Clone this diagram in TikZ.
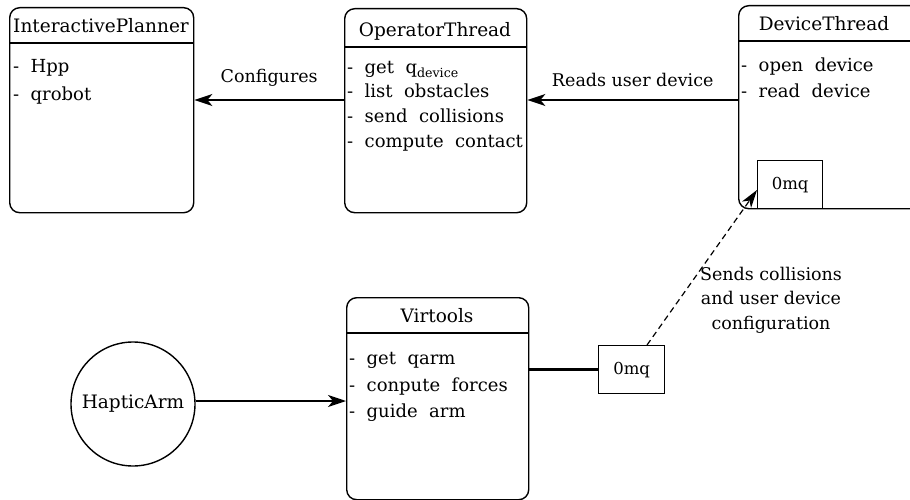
\documentclass[tikz,border=0pt]{standalone}
\usepackage{fontspec}
\setmainfont{DejaVu Serif}
\usetikzlibrary{arrows.meta}
\tikzset{
  box/.style={draw, line width=1.4pt, rounded corners=10pt, anchor=north west, inner sep=0pt},
  txt/.style={anchor=base west, inner sep=0pt, font=\fontsize{18}{22}\selectfont},
  ttl/.style={anchor=base, inner sep=0pt, font=\fontsize{18.5}{22}\selectfont},
  lbl/.style={inner sep=0pt, font=\fontsize{17.5}{24.5}\selectfont, align=center},
  zmq/.style={draw, line width=1.3pt, fill=white, anchor=north west, inner sep=0pt, font=\fontsize{16.5}{18}\selectfont},
  arr/.style={line width=1.4pt, -{Stealth[length=18pt,width=12pt,inset=5pt]}},
  sep/.style={line width=1.4pt}
}
\begin{document}
\begin{tikzpicture}[x=1pt,y=-1pt]
\useasboundingbox (0,0) rectangle (910,500);
\begin{scope}
\clip (0,0) rectangle (910,500);
% InteractivePlanner
\node[box, minimum width=184pt, minimum height=205pt] (ip) at (9,7) {};
\draw[sep] (9,43) -- (193,43);
\node[ttl] (ipt) at (101,33) {InteractivePlanner};
\node[txt] (ip1) at (13,73) {-\ \ Hpp};
\node[txt] (ip2) at (13,101) {-\ \ qrobot};
% OperatorThread
\node[box, minimum width=182pt, minimum height=204pt] (op) at (344,8) {};
\draw[sep] (344,47) -- (526,47);
\node[ttl] (opt) at (435,37) {OperatorThread};
\node[txt] (op1) at (347,74) {-\ \ get\ \ q\textsubscript{device}};
\node[txt] (op2) at (347,98) {-\ \ list\ \ obstacles};
\node[txt] (op3) at (347,123) {-\ \ send\ \ collisions};
\node[txt] (op4) at (347,148) {-\ \ compute\ \ contact};
% DeviceThread
\node[box, minimum width=200pt, minimum height=203pt] (dt) at (738,5) {};
\draw[sep] (738,41) -- (910,41);
\node[ttl] (dtt) at (824,31) {DeviceThread};
\node[txt] (dt1) at (741,72) {-\ \ open\ \ device};
\node[txt] (dt2) at (741,98) {-\ \ read\ \ device};
\node[zmq, minimum width=65pt, minimum height=48pt] (z1) at (757,160) {0mq};
% Virtools
\node[box, minimum width=182pt, minimum height=202pt] (vt) at (346,297) {};
\draw[sep] (346,333) -- (528,333);
\node[ttl] (vtt) at (437,322) {Virtools};
\node[txt] (vt1) at (349,364) {-\ \ get\ \ qarm};
\node[txt] (vt2) at (349,391) {-\ \ conpute\ \ forces};
\node[txt] (vt3) at (349,417) {-\ \ guide\ \ arm};
% 0mq lower
\node[zmq, minimum width=66pt, minimum height=48pt] (z2) at (598,345) {0mq};
% HapticArm
\node[draw, circle, line width=1.4pt, minimum size=124pt, inner sep=0pt, font=\fontsize{18.5}{22}\selectfont] (ha) at (133,404) {HapticArm};
\end{scope}
% connectors
\draw[arr] (op.west |- 0,100) -- node[lbl, above=13pt] (l1) {Configures} (ip.east |- 0,100);
\draw[arr] (dt.west |- 0,100) -- node[lbl, above=13pt] (l2) {Reads user device} (op.east |- 0,100);
\draw[arr] (ha.east |- 0,401) -- (vt.west |- 0,401);
\draw[line width=3pt] (vt.east |- z2.west) -- (z2.west);
\coordinate (tip) at (757,190);
\draw[line width=1.2pt, dash pattern=on 6pt off 4pt, -{Stealth[length=18pt,width=11pt,inset=5pt]}] (z2.north -| 647,0) -- (tip);
\node[lbl] (l3) at (771,300) {Sends collisions\\and user device\\configuration};
\end{tikzpicture}
\end{document}
